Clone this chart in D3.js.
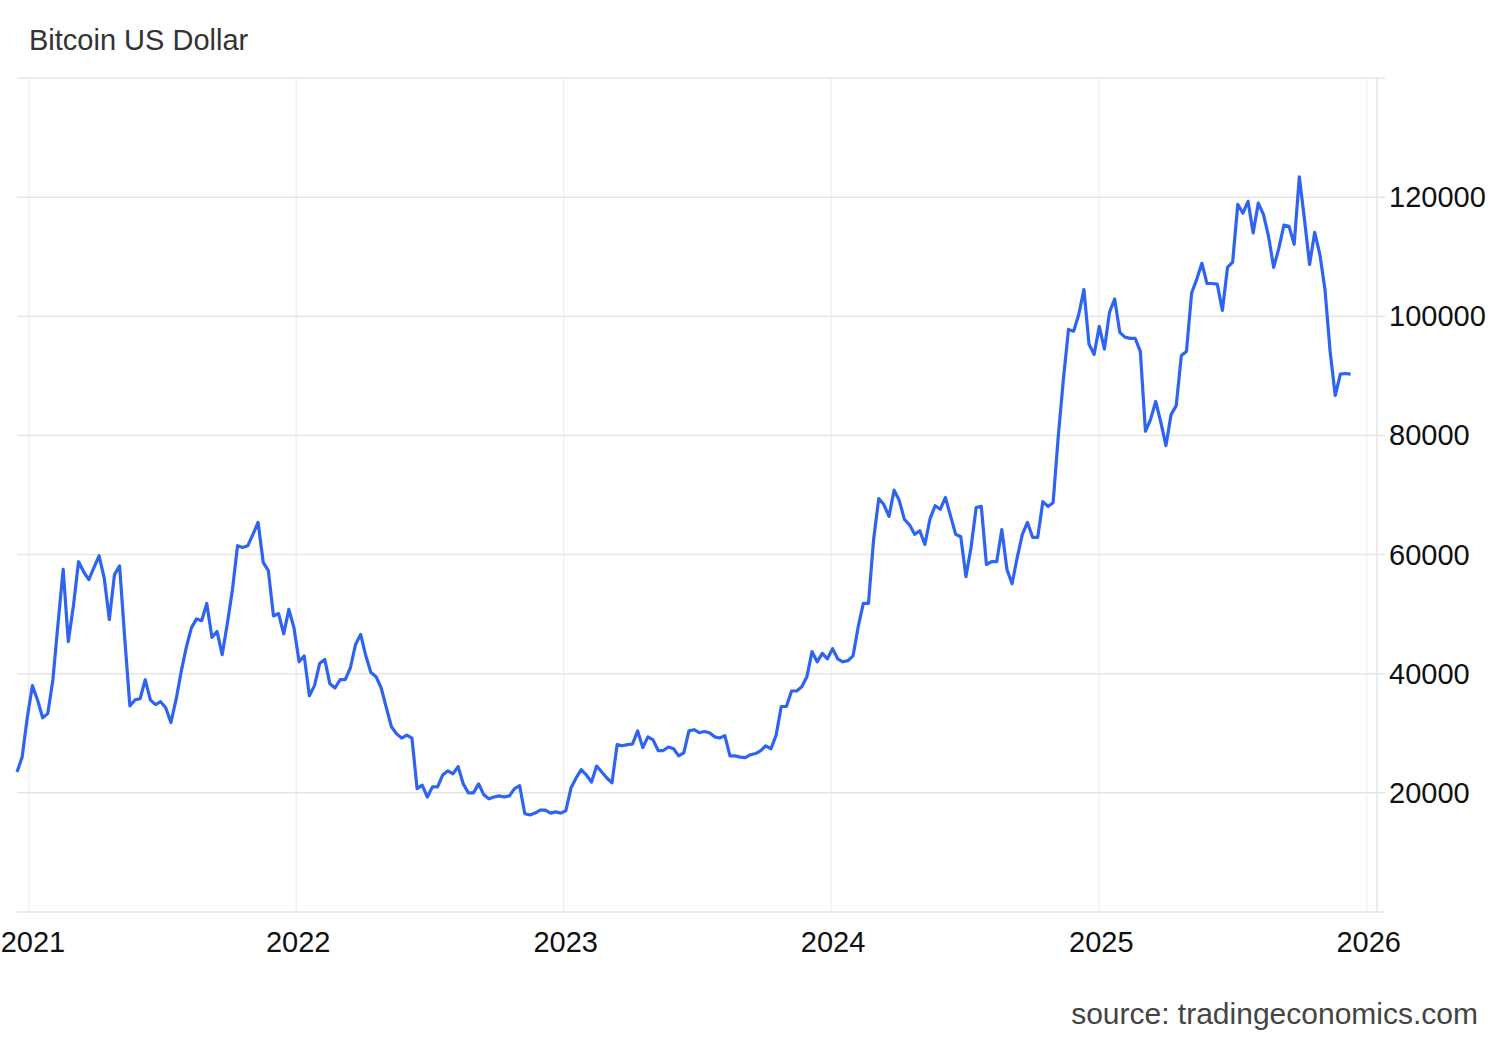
<!DOCTYPE html>
<html><head><meta charset="utf-8">
<script src="https://cdn.jsdelivr.net/npm/d3@7"></script>
<style>body{margin:0;background:#fff}svg{font-family:"Liberation Sans",Arial,sans-serif}</style>
</head><body><svg id="c" width="1500" height="1040"></svg>
<script>
// weekly closes, first week starting 2020-12-16
const startDate = "2020-12-16";
const endDate = "2026-01-15";
const prices = [23500,26000,32600,38000,35600,32600,33300,39000,48400,57500,45400,51400,58800,57100,55800,57800,59800,56100,49100,56600,58100,46000,34600,35600,35800,39000,35600,34800,35300,34300,31800,35600,40300,44400,47700,49200,48900,51800,46100,47100,43200,48400,54100,61500,61200,61500,63400,65400,58700,57300,49700,50100,46700,50800,47700,42000,43000,36300,38000,41700,42400,38300,37600,39000,39000,41000,44900,46600,43000,40200,39500,37600,34300,31100,29900,29200,29700,29200,20700,21300,19300,21000,21000,23000,23700,23200,24400,21500,20000,20000,21500,19700,19000,19300,19500,19300,19500,20700,21200,16500,16300,16600,17100,17100,16600,16800,16600,17000,20800,22500,23900,23000,21800,24500,23500,22500,21700,28100,27900,28100,28200,30400,27600,29400,28900,27100,27100,27700,27400,26200,26700,30400,30600,30100,30300,30100,29400,29200,29600,26200,26200,26000,25900,26400,26600,27100,27900,27400,29700,34500,34500,37100,37100,37800,39500,43700,42000,43400,42500,44200,42500,42000,42200,43000,47900,51800,51800,62500,69400,68400,66400,70800,69100,65900,65000,63400,64000,61700,66000,68200,67600,69600,66500,63400,63000,56300,61200,67900,68100,58300,58800,58800,64200,57500,55100,59500,63400,65400,62900,62900,68900,68100,68700,79800,89400,97800,97500,100300,104500,95300,93600,98300,94500,100700,102900,97300,96500,96300,96300,94100,80700,82700,85700,82200,78300,83500,85000,93400,94100,103900,106200,108900,105500,105500,105400,101000,108200,109100,118800,117300,119300,114000,119000,117100,113400,108200,111400,115300,115100,112100,123400,116300,108700,114100,110400,104500,94100,86700,90300,90400,90300];
const yTicks = [20000,40000,60000,80000,100000,120000];
const xTicks = ["2021","2022","2023","2024","2025","2026"];
const title = "Bitcoin US Dollar", source = "source: tradingeconomics.com";

const parse = d3.timeParse("%Y-%m-%d");
const s0 = parse(startDate);
const data = prices.map((v,i)=>({d:d3.timeWeek.offset(s0,i),v}));
const svg = d3.select("#c");
const L=17,R=1377,T=78,B=912;
const x = d3.scaleTime().domain([s0,parse(endDate)]).range([L,R]);
const y = d3.scaleLinear().domain([0,140000]).range([B,T]);

svg.append("g").selectAll("line").data(xTicks).join("line")
  .attr("x1",d=>x(parse(d+"-01-01"))).attr("x2",d=>x(parse(d+"-01-01")))
  .attr("y1",T).attr("y2",B).attr("stroke","#eef2f4").attr("stroke-width",1.5);
svg.append("g").selectAll("line").data(yTicks.concat([140000])).join("line")
  .attr("x1",L).attr("x2",1385).attr("y1",d=>y(d)).attr("y2",d=>y(d))
  .attr("stroke","#e6e6e6").attr("stroke-width",1.5);
svg.append("line").attr("x1",L).attr("x2",1385).attr("y1",B).attr("y2",B).attr("stroke","#e6e6e6").attr("stroke-width",1.5);
svg.append("line").attr("x1",R).attr("x2",R).attr("y1",T).attr("y2",B).attr("stroke","#e6e6e6").attr("stroke-width",1.5);

svg.append("g").selectAll("text").data(yTicks).join("text")
  .attr("x",1389).attr("y",d=>y(d)+10).attr("font-size",29).attr("fill","#111").text(d=>d);
svg.append("g").selectAll("text").data(xTicks).join("text")
  .attr("x",d=>Math.max(33,x(parse(d+"-01-01"))+2)).attr("y",952).attr("text-anchor","middle")
  .attr("font-size",29).attr("fill","#111").text(d=>d);

svg.append("path").datum(data)
  .attr("d",d3.line().x(d=>x(d.d)).y(d=>y(d.v)))
  .attr("fill","none").attr("stroke","#2e64f1").attr("stroke-width",3.2).attr("stroke-linejoin","round");

svg.append("text").attr("x",29).attr("y",50).attr("font-size",29).attr("fill","#333").text(title);
svg.append("text").attr("x",1478).attr("y",1024).attr("text-anchor","end").attr("font-size",30).attr("fill","#444").text(source);
</script></body></html>
